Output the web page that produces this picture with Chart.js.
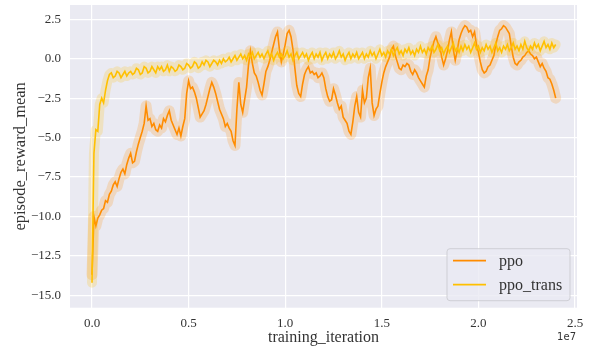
<!DOCTYPE html>
<html>
<head>
<meta charset="utf-8">
<script src="https://cdn.jsdelivr.net/npm/chart.js@4"></script>
<style>
  html, body { margin: 0; padding: 0; background: #fff; }
  canvas { display: block; }
</style>
</head>
<body>
<canvas id="chart" width="589" height="354"></canvas>
<script>
const seriesNames = ['ppo', 'ppo_trans'];

const iterations = [
  0, 1e5, 2e5, 3e5, 4e5, 5e5, 6e5, 7e5, 8e5, 9e5,
  10e5, 11e5, 12e5, 13e5, 14e5, 15e5, 16e5, 17e5, 18e5, 19e5,
  20e5, 21e5, 22e5, 23e5, 24e5, 25e5, 26e5, 27e5, 28e5, 29e5,
  30e5, 31e5, 32e5, 33e5, 34e5, 35e5, 36e5, 37e5, 38e5, 39e5,
  40e5, 41e5, 42e5, 43e5, 44e5, 45e5, 46e5, 47e5, 48e5, 49e5,
  50e5, 51e5, 52e5, 53e5, 54e5, 55e5, 56e5, 57e5, 58e5, 59e5,
  60e5, 61e5, 62e5, 63e5, 64e5, 65e5, 66e5, 67e5, 68e5, 69e5,
  70e5, 71e5, 72e5, 73e5, 74e5, 75e5, 76e5, 77e5, 78e5, 79e5,
  80e5, 81e5, 82e5, 83e5, 84e5, 85e5, 86e5, 87e5, 88e5, 89e5,
  90e5, 91e5, 92e5, 93e5, 94e5, 95e5, 96e5, 97e5, 98e5, 99e5,
  100e5, 101e5, 102e5, 103e5, 104e5, 105e5, 106e5, 107e5, 108e5, 109e5,
  110e5, 111e5, 112e5, 113e5, 114e5, 115e5, 116e5, 117e5, 118e5, 119e5,
  120e5, 121e5, 122e5, 123e5, 124e5, 125e5, 126e5, 127e5, 128e5, 129e5,
  130e5, 131e5, 132e5, 133e5, 134e5, 135e5, 136e5, 137e5, 138e5, 139e5,
  140e5, 141e5, 142e5, 143e5, 144e5, 145e5, 146e5, 147e5, 148e5, 149e5,
  150e5, 151e5, 152e5, 153e5, 154e5, 155e5, 156e5, 157e5, 158e5, 159e5,
  160e5, 161e5, 162e5, 163e5, 164e5, 165e5, 166e5, 167e5, 168e5, 169e5,
  170e5, 171e5, 172e5, 173e5, 174e5, 175e5, 176e5, 177e5, 178e5, 179e5,
  180e5, 181e5, 182e5, 183e5, 184e5, 185e5, 186e5, 187e5, 188e5, 189e5,
  190e5, 191e5, 192e5, 193e5, 194e5, 195e5, 196e5, 197e5, 198e5, 199e5,
  200e5, 201e5, 202e5, 203e5, 204e5, 205e5, 206e5, 207e5, 208e5, 209e5,
  210e5, 211e5, 212e5, 213e5, 214e5, 215e5, 216e5, 217e5, 218e5, 219e5,
  220e5, 221e5, 222e5, 223e5, 224e5, 225e5, 226e5, 227e5, 228e5, 229e5,
  230e5, 231e5, 232e5, 233e5, 234e5, 235e5, 236e5, 237e5, 238e5, 239e5,
  240e5
];

const ppoReward = [
  -13.7, -10.0, -10.6, -10.1, -9.9, -9.6, -9.5, -9.0, -9.1, -8.6,
  -8.4, -8.0, -7.8, -8.1, -7.6, -7.2, -7.0, -7.3, -6.7, -6.3,
  -6.0, -6.6, -6.5, -5.9, -5.4, -5.0, -4.6, -4.1, -3.0, -3.9,
  -3.8, -4.3, -4.1, -4.5, -4.6, -4.2, -4.4, -3.8, -4.0, -3.6,
  -3.3, -3.9, -4.2, -4.5, -4.8, -4.4, -4.9, -4.3, -3.8, -2.2,
  -1.4, -1.9, -1.8, -2.1, -2.5, -3.1, -3.7, -3.5, -3.3, -2.9,
  -2.4, -1.9, -1.5, -1.8, -2.2, -2.7, -3.2, -3.5, -3.8, -4.3,
  -4.1, -4.4, -4.6, -5.2, -5.5, -3.2, -1.5, -2.9, -3.4, -2.6,
  -1.8, -0.4, 0.5, -0.3, -0.9, -1.1, -1.5, -2.0, -2.3, -1.6,
  -0.8, -0.5, -0.1, 0.4, 0.9, 1.4, 1.7, 0.6, -0.2, 0.3,
  0.9, 1.6, 1.8, 1.4, 0.6, -0.6, -1.7, -2.2, -2.4, -1.6,
  -1.0, -0.7, -0.5, -0.9, -0.8, -1.0, -0.9, -1.2, -1.1, -0.9,
  -1.2, -1.9, -2.4, -2.7, -2.6, -1.9, -2.3, -2.8, -3.2, -3.0,
  -3.7, -3.9, -4.1, -4.6, -4.8, -4.0, -3.0, -2.4, -3.4, -3.7,
  -2.0, -2.8, -2.5, -1.2, -0.6, -2.8, -3.6, -3.2, -3.0, -2.2,
  -1.5, -0.9, -0.5, -0.2, 0.1, 0.6, 0.8, 0.2, -0.2, -0.6,
  -0.7, -0.4, -0.5, -0.3, -0.4, -0.8, -1.0, -0.7, -0.9, -1.2,
  -1.4, -1.6, -1.8, -1.1, -0.7, 0.1, 0.6, 1.1, 1.4, 1.0,
  0.8, 0.1, -0.4, 0.0, 0.5, 1.2, 1.7, 0.6, -0.1, 0.5,
  1.2, 1.6, 1.9, 2.1, 2.0, 1.7, 1.8, 1.4, 1.7, 0.9,
  0.4, -0.2, -0.7, -0.9, -0.8, -0.5, -0.4, -0.1, 0.2, 0.9,
  1.4, 1.8, 1.9, 2.1, 2.0, 1.8, 1.6, 0.8, 0.1, -0.3,
  -0.4, -0.2, -0.1, 0.1, 0.2, 0.4, 0.5, 0.3, 0.2, 0.0,
  0.1, -0.2, -0.5, -0.3, -0.6, -0.8, -1.2, -1.3, -1.6, -2.0,
  -2.5
];

const ppoTransReward = [
  -14.2, -6.0, -4.5, -4.6, -2.9, -2.5, -2.8, -2.0, -1.4, -1.0,
  -0.9, -1.2, -1.1, -0.8, -0.9, -1.2, -1.0, -0.8, -1.1, -0.9,
  -0.8, -1.0, -0.9, -0.6, -0.7, -1.0, -0.9, -0.5, -0.6, -0.9,
  -0.8, -0.5, -0.7, -0.9, -0.5, -0.7, -0.5, -0.8, -0.7, -0.4,
  -0.8, -0.5, -0.6, -0.8, -0.7, -0.4, -0.5, -0.7, -0.6, -0.3,
  -0.4, -0.6, -0.5, -0.2, -0.3, -0.6, -0.5, -0.2, -0.4, -0.1,
  -0.2, -0.5, -0.3, -0.1, -0.2, -0.4, -0.1, -0.3, 0.0, -0.2,
  -0.1, 0.1, -0.2, 0.0, 0.2, -0.1, 0.1, 0.3, 0.0, 0.2,
  -0.1, 0.3, 0.1, 0.4, 0.0, 0.2, 0.4, 0.1, 0.3, 0.0,
  0.3, 0.5, 0.1, 0.3, -0.1, 0.2, 0.4, 0.1, 0.3, 0.0,
  0.2, 0.5, 0.1, 0.3, -0.1, 0.2, 0.4, 0.0, 0.2, 0.4,
  0.1, 0.3, -0.1, 0.2, 0.4, 0.0, 0.3, 0.1, 0.4, -0.1,
  0.2, 0.4, 0.0, 0.3, 0.1, 0.4, 0.0, 0.2, 0.5, 0.1,
  0.3, -0.1, 0.2, 0.4, 0.0, 0.3, 0.1, 0.4, 0.0, 0.2,
  0.4, 0.0, 0.3, 0.1, 0.5, 0.2, 0.4, 0.0, 0.3, 0.6,
  0.2, 0.4, 0.1, 0.5, 0.3, 0.6, 0.2, 0.5, 0.7, 0.3,
  0.5, 0.2, 0.6, 0.4, 0.7, 0.3, 0.5, 0.2, 0.6, 0.4,
  0.8, 0.4, 0.6, 0.3, 0.7, 0.5, 0.8, 0.4, 0.6, 0.9,
  0.5, 0.7, 0.3, 0.6, 0.8, 0.4, 0.7, 1.0, 0.5, 0.7,
  0.4, 0.8, 0.5, 0.9, 0.6, 0.8, 0.4, 0.7, 1.0, 0.6,
  0.8, 0.4, 0.7, 0.5, 0.9, 0.6, 0.8, 0.4, 0.7, 1.0,
  0.5, 0.7, 0.4, 0.8, 0.6, 0.9, 0.5, 0.7, 1.0, 0.6,
  0.8, 0.5, 0.9, 0.6, 1.1, 0.7, 0.5, 0.8, 0.6, 1.0,
  0.7, 0.9, 0.5, 0.8, 1.1, 0.7, 0.9, 0.6, 1.0, 0.7,
  0.9
];

const xTicks = [0, 0.5e7, 1.0e7, 1.5e7, 2.0e7, 2.5e7];
const yTicks = [-15, -12.5, -10, -7.5, -5, -2.5, 0, 2.5];

const serif = '"Liberation Serif", "Times New Roman", serif';
const inkColor = '#333333';

function points(values) {
  return iterations.map((x, i) => ({ x: x, y: values[i] }));
}

function noEdgePadding(scale) {
  scale.paddingLeft = 0;
  scale.paddingRight = 0;
  scale.paddingTop = 0;
  scale.paddingBottom = 0;
}

// seaborn-like grey panel
const panelBg = {
  id: 'panelBg',
  beforeDraw(chart) {
    const { ctx, chartArea: a } = chart;
    ctx.save();
    ctx.fillStyle = '#ffffff';
    ctx.fillRect(0, 0, chart.width, chart.height);
    ctx.fillStyle = '#EAEAF2';
    ctx.fillRect(a.left, a.top, a.right - a.left, a.bottom - a.top);
    ctx.restore();
  }
};

// legend box in lower right + "1e7" offset text
const insideLegend = {
  id: 'insideLegend',
  afterDraw(chart) {
    const { ctx, chartArea: a } = chart;
    const entries = chart.data.datasets.filter(d => d.legendEntry);
    ctx.save();
    const bx = a.right - 130, by = a.bottom - 59, bw = 123, bh = 52;
    ctx.beginPath();
    ctx.roundRect(bx, by, bw, bh, 3);
    ctx.fillStyle = 'rgba(234,234,242,0.8)';
    ctx.fill();
    ctx.strokeStyle = 'rgba(204,204,210,0.9)';
    ctx.lineWidth = 1;
    ctx.stroke();
    ctx.font = '16px ' + serif;
    ctx.textBaseline = 'middle';
    entries.forEach((d, i) => {
      const y = by + 12 + i * 24;
      ctx.strokeStyle = d.borderColor;
      ctx.lineWidth = 1.8;
      ctx.beginPath();
      ctx.moveTo(bx + 6, y);
      ctx.lineTo(bx + 39, y);
      ctx.stroke();
      ctx.fillStyle = inkColor;
      ctx.fillText(d.label, bx + 52, y + 1);
    });
    ctx.font = '10px "DejaVu Sans", sans-serif';
    ctx.textAlign = 'right';
    ctx.fillText('1e7', a.right - 1, 337);
    ctx.restore();
  }
};

new Chart(document.getElementById('chart'), {
  type: 'line',
  data: {
    datasets: [
      {
        label: seriesNames[0],
        legendEntry: true,
        data: points(ppoReward),
        borderColor: '#FF8C00',
        borderWidth: 1.6,
        pointRadius: 0,
        tension: 0,
        order: 3
      },
      {
        label: seriesNames[0] + ' band',
        data: points(ppoReward),
        borderColor: 'rgba(255,140,0,0.2)',
        borderWidth: 11,
        borderJoinStyle: 'round',
        borderCapStyle: 'round',
        pointRadius: 0,
        order: 4
      },
      {
        label: seriesNames[1],
        legendEntry: true,
        data: points(ppoTransReward),
        borderColor: '#FFC000',
        borderWidth: 1.6,
        pointRadius: 0,
        tension: 0,
        order: 1
      },
      {
        label: seriesNames[1] + ' band',
        data: points(ppoTransReward),
        borderColor: 'rgba(255,192,0,0.2)',
        borderWidth: 10,
        borderJoinStyle: 'round',
        borderCapStyle: 'round',
        pointRadius: 0,
        order: 2
      }
    ]
  },
  options: {
    responsive: false,
    animation: false,
    devicePixelRatio: 1,
    layout: { padding: { top: 5, right: 12, left: 0, bottom: 0 } },
    plugins: {
      legend: { display: false },
      tooltip: { enabled: false }
    },
    scales: {
      x: {
        type: 'linear',
        min: -0.1139e7,
        max: 2.5103e7,
        afterBuildTicks(scale) {
          scale.ticks = xTicks.map(v => ({ value: v }));
        },
        afterFit(scale) {
          scale.height = 46.3;
          noEdgePadding(scale);
        },
        grid: { color: '#ffffff', lineWidth: 1.2, drawTicks: false },
        border: { display: false },
        ticks: {
          padding: 8,
          color: inkColor,
          font: { family: serif, size: 13 },
          maxRotation: 0,
          callback: v => (v / 1e7).toFixed(1)
        },
        title: {
          display: true,
          text: 'training_iteration',
          color: inkColor,
          font: { family: serif, size: 16 },
          padding: { top: 0, bottom: 7 }
        }
      },
      y: {
        min: -15.786,
        max: 3.407,
        afterBuildTicks(scale) {
          scale.ticks = yTicks.map(v => ({ value: v }));
        },
        afterFit(scale) {
          scale.width = 70;
          noEdgePadding(scale);
        },
        grid: { color: '#ffffff', lineWidth: 1.2, drawTicks: false },
        border: { display: false },
        ticks: {
          padding: 9,
          color: inkColor,
          font: { family: serif, size: 13 },
          callback: v => v.toFixed(1).replace('-', '\u2212')
        },
        title: {
          display: true,
          text: 'episode_reward_mean',
          color: inkColor,
          font: { family: serif, size: 16.5 },
          padding: { top: 11, bottom: 0 }
        }
      }
    }
  },
  plugins: [panelBg, insideLegend]
});
</script>
</body>
</html>
